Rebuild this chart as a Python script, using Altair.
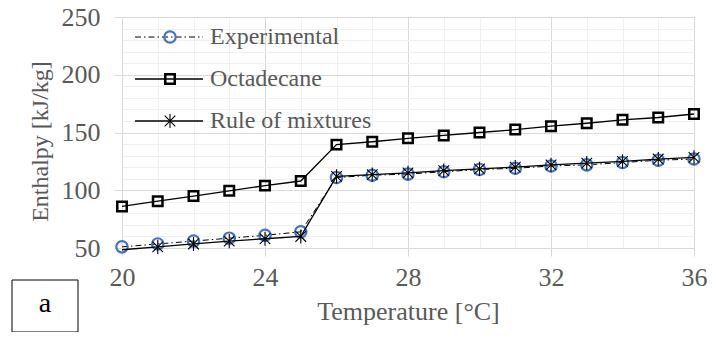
import altair as alt
import pandas as pd

temps = [20, 21, 22, 23, 24, 25, 26, 27, 28, 29, 30, 31, 32, 33, 34, 35, 36]
experimental = [51, 53.5, 56, 58.5, 61, 64, 111, 113, 114, 116, 118, 119, 121, 122, 124, 126, 127]
octadecane = [86, 90.5, 95, 99.5, 104, 108, 139.5, 142, 145, 147.5, 150, 152.5, 155.5, 158, 161, 163, 166]
rule_of_mixtures = [48.5, 51, 53.5, 56, 58, 60, 112, 113.5, 115, 117, 118.5, 120, 122, 123.5, 125, 127, 128.5]

series_names = ["Experimental", "Octadecane", "Rule of mixtures"]
x_ticks = list(range(20, 37))
y_ticks = list(range(50, 251, 10))

FONT = "Liberation Serif"
TXT = "#595959"
MAJ = "#d9d9d9"
MIN = "#f0f0f0"
STAR = "M-0.75,-0.75L0.75,0.75M-0.75,0.75L0.75,-0.75M0,-1L0,1"

df_exp = pd.DataFrame({"T": temps, "H": experimental})
df_oct = pd.DataFrame({"T": temps, "H": octadecane})
df_rom = pd.DataFrame({"T": temps, "H": rule_of_mixtures})

X = alt.X("T:Q", title="Temperature [°C]",
          scale=alt.Scale(domain=[20, 36], nice=False, zero=False),
          axis=alt.Axis(values=x_ticks,
                        labelExpr="datum.value % 4 == 0 ? datum.label : ''",
                        gridColor=alt.condition("datum.value % 4 == 0", alt.value(MAJ), alt.value(MIN)),
                        tickSize=alt.condition("datum.value % 4 == 0", alt.value(8), alt.value(0)),
                        tickColor=MAJ, domainColor=MAJ, labelPadding=8,
                        labelFontSize=26, titleFontSize=26, titlePadding=8,
                        labelColor=TXT, titleColor=TXT, labelFont=FONT, titleFont=FONT,
                        titleFontWeight="normal", labelFlush=False))
Y = alt.Y("H:Q", title="Enthalpy [kJ/kg]",
          scale=alt.Scale(domain=[50, 250], nice=False, zero=False),
          axis=alt.Axis(values=y_ticks,
                        labelExpr="datum.value % 50 == 0 ? datum.label : ''",
                        gridColor=alt.condition("datum.value % 50 == 0", alt.value(MAJ), alt.value(MIN)),
                        tickSize=alt.condition("datum.value % 50 == 0", alt.value(8), alt.value(0)),
                        tickColor=MAJ, domainColor=MAJ, labelPadding=14,
                        labelFontSize=26, titleFontSize=24,
                        titleX=-82, titleY=124, titleAngle=270,
                        titleAlign="center", titleBaseline="middle",
                        labelColor=TXT, titleColor=TXT, labelFont=FONT, titleFont=FONT,
                        titleFontWeight="normal", labelFlush=False))

exp_line = alt.Chart(df_exp).mark_line(color="black", strokeWidth=1, strokeDash=[6, 3, 1.5, 3]).encode(x=X, y=Y)
exp_pts = alt.Chart(df_exp).mark_point(shape="circle", filled=False, color="#4472c4", size=130,
                                       strokeWidth=2.2, opacity=1).encode(x=X, y=Y)
rom_line = alt.Chart(df_rom).mark_line(color="black", strokeWidth=1.3).encode(x=X, y=Y)
rom_pts = alt.Chart(df_rom).transform_filter("datum.T > 20").mark_point(
    shape=STAR, filled=False, color="black", size=200, strokeWidth=1.1, opacity=1).encode(x=X, y=Y)
oct_line = alt.Chart(df_oct).mark_line(color="black", strokeWidth=1.3).encode(x=X, y=Y)
oct_pts = alt.Chart(df_oct).mark_point(shape="square", filled=False, color="black", size=90,
                                       strokeWidth=2.5, opacity=1).encode(x=X, y=Y)

# manual legend
legend_layers = []
row_y = [20, 62, 104]
styles = [
    dict(dash=[6, 3, 1.5, 3], width=1, shape="circle", color="#4472c4", size=130, sw=2.2),
    dict(dash=[1, 0], width=1.3, shape="square", color="black", size=90, sw=2.5),
    dict(dash=[1, 0], width=1.3, shape=STAR, color="black", size=200, sw=1.1),
]
for name, ry, st in zip(series_names, row_y, styles):
    ldf = pd.DataFrame({"series": [name]})
    base = alt.Chart(ldf)
    legend_layers.append(base.mark_rule(color="black", strokeWidth=st["width"], strokeDash=st["dash"]).encode(
        x=alt.value(13), x2=alt.value(81), y=alt.value(ry)))
    legend_layers.append(base.mark_point(shape=st["shape"], filled=False, color=st["color"], size=st["size"],
                                         strokeWidth=st["sw"], opacity=1).encode(
        x=alt.value(48), y=alt.value(ry)))
    legend_layers.append(base.mark_text(align="left", baseline="middle", font=FONT, fontSize=24, color=TXT).encode(
        x=alt.value(88), y=alt.value(ry), text="series:N"))

box_df = pd.DataFrame({"label": ["a"]})
box = alt.Chart(box_df).mark_rect(fill="white", stroke="black", strokeWidth=1).encode(
    x=alt.value(-110), x2=alt.value(-44), y=alt.value(263), y2=alt.value(315))
box_txt = alt.Chart(box_df).mark_text(align="center", baseline="middle", font=FONT, fontSize=28, color="black").encode(
    x=alt.value(-77), y=alt.value(287), text="label:N")

chart = alt.layer(exp_line, exp_pts, rom_line, rom_pts, oct_line, oct_pts, *legend_layers, box, box_txt).properties(
    width=572, height=231,
    autosize=alt.AutoSizeParams(type="none"),
    padding={"left": 114, "top": 9, "right": 14, "bottom": 84},
).configure_view(stroke=None).configure(background="white")

chart.save("out.html", embed_options={"renderer": "svg", "actions": False})
